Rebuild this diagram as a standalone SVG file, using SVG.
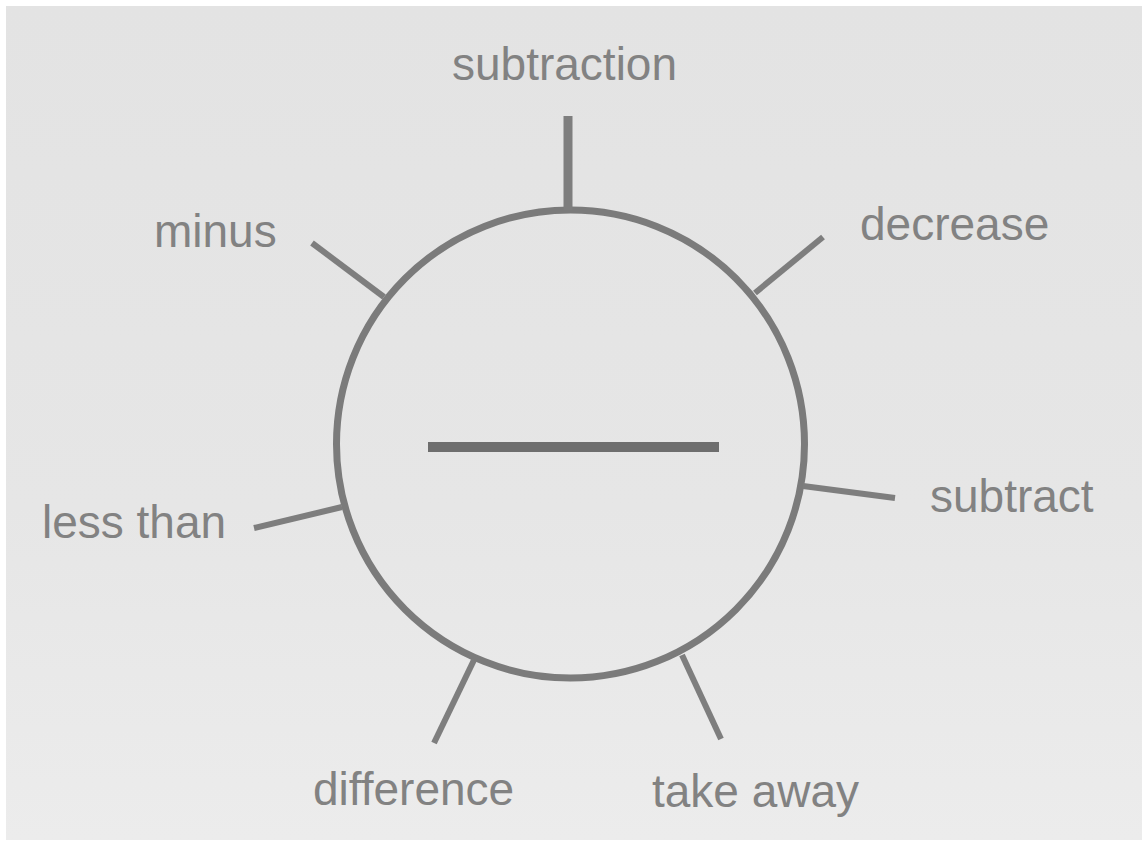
<svg xmlns="http://www.w3.org/2000/svg" width="1146" height="844" viewBox="0 0 1146 844">
  <defs>
    <linearGradient id="paper" x1="0" y1="0" x2="0" y2="1">
      <stop offset="0" stop-color="#e3e3e3"/>
      <stop offset="0.6" stop-color="#e6e6e6"/>
      <stop offset="1" stop-color="#ececec"/>
    </linearGradient>
    <style>
      .lbl { font-family: "Liberation Sans", Arial, Helvetica, sans-serif; font-size: 46px; fill: #828282; }
      .spoke { stroke: #7e7e7e; stroke-width: 6; fill: none; stroke-linecap: butt; }
      .ring { stroke: #7b7b7b; stroke-width: 7; fill: none; }
      .bar { stroke: #6e6e6e; stroke-width: 10; fill: none; }
    </style>
  </defs>
  <rect x="0" y="0" width="1146" height="844" fill="#ffffff"/>
  <rect x="6" y="6" width="1136" height="834" fill="url(#paper)"/>

  <g id="center">
    <circle class="ring" cx="570.5" cy="444" r="234"/>
    <line class="bar" x1="428" y1="447" x2="719" y2="447"/>
  </g>

  <g id="connectors">
    <line class="spoke" x1="568" y1="116" x2="568" y2="210" style="stroke-width:9"/>
    <line class="spoke" x1="755" y1="293" x2="823" y2="237"/>
    <line class="spoke" x1="384" y1="297" x2="312" y2="243"/>
    <line class="spoke" x1="803" y1="486" x2="895" y2="498"/>
    <line class="spoke" x1="342" y1="507" x2="254" y2="528"/>
    <line class="spoke" x1="474" y1="660" x2="434" y2="743"/>
    <line class="spoke" x1="682" y1="655" x2="721" y2="739"/>
  </g>

  <g id="node-subtraction"><text class="lbl" x="452" y="80">subtraction</text></g>
  <g id="node-decrease"><text class="lbl" x="860" y="240">decrease</text></g>
  <g id="node-minus"><text class="lbl" x="154" y="247">minus</text></g>
  <g id="node-subtract"><text class="lbl" x="930" y="512">subtract</text></g>
  <g id="node-less-than"><text class="lbl" x="42" y="538">less than</text></g>
  <g id="node-difference"><text class="lbl" x="313" y="805">difference</text></g>
  <g id="node-take-away"><text class="lbl" x="652" y="807">take away</text></g>
</svg>
